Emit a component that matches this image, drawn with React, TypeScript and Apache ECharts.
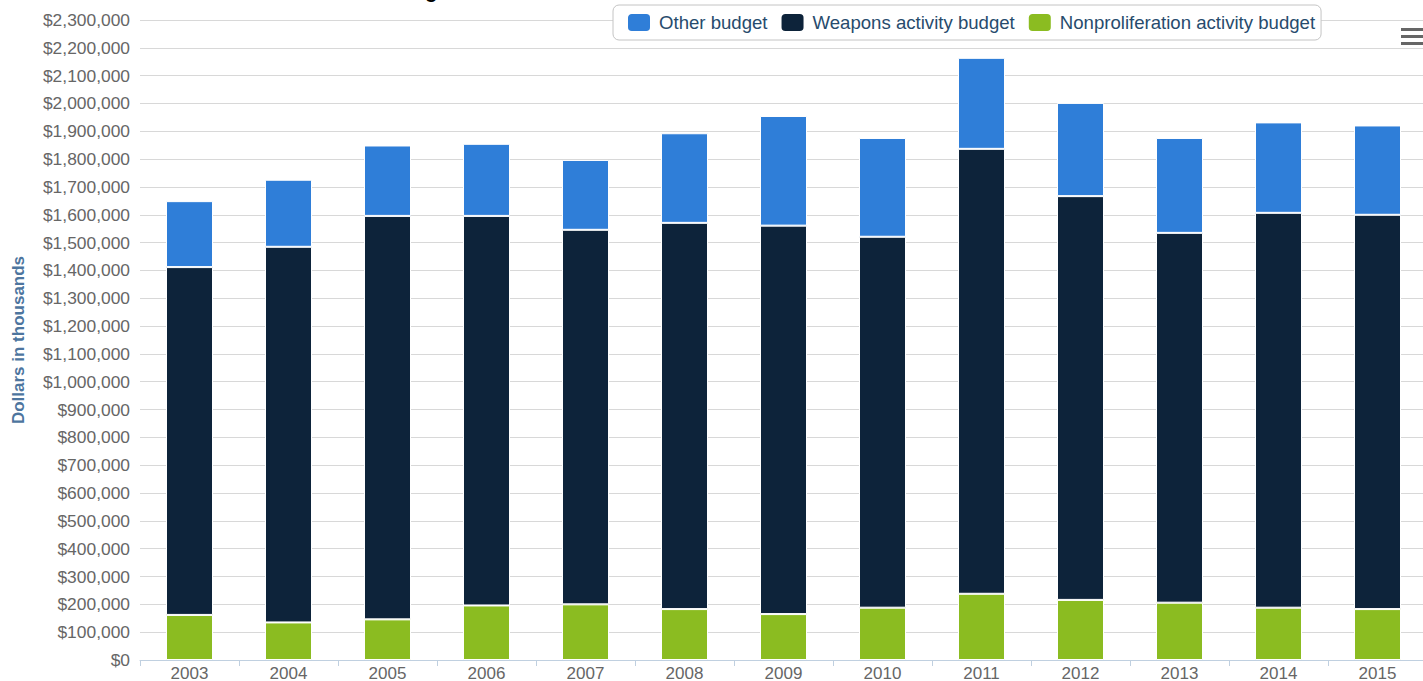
import React, { useEffect, useRef } from "react";
import * as echarts from "echarts";

const years = ["2003", "2004", "2005", "2006", "2007", "2008", "2009", "2010", "2011", "2012", "2013", "2014", "2015"];
const nonproliferation = [162000, 135000, 146000, 196000, 200000, 183000, 165000, 188000, 238000, 216000, 206000, 188000, 183000];
const weapons = [1250000, 1350000, 1450000, 1400000, 1346000, 1388000, 1396000, 1333000, 1599000, 1451000, 1329000, 1419000, 1417000];
const other = [237000, 241000, 253000, 259000, 251000, 322000, 394000, 355000, 327000, 335000, 341000, 325000, 321000];

const FONT = "'Liberation Sans', Arial, Helvetica, sans-serif";

export default function App() {
  const ref = useRef<HTMLDivElement>(null);
  useEffect(() => {
    document.body.style.margin = "0";
    const chart = echarts.init(ref.current!, null, { renderer: "svg" });
    const fmt = (v: number) => "$" + Math.round(v).toString().replace(/\B(?=(\d{3})+(?!\d))/g, ",");
    chart.setOption({
      animation: false,
      textStyle: { fontFamily: FONT },
      grid: { left: 140, right: -4, top: 20, bottom: 21, containLabel: false, outerBoundsMode: "none" },
      legend: {
        data: ["Other budget", "Weapons activity budget", "Nonproliferation activity budget"],
        left: 613,
        top: 5,
        padding: [7, 6, 7, 13],
        borderColor: "#c4c4c4",
        borderWidth: 1,
        borderRadius: 6,
        backgroundColor: "#ffffff",
        icon: "roundRect",
        itemWidth: 24,
        itemHeight: 19,
        itemGap: 12,
        textStyle: { fontSize: 18.6, color: "#274b6d", fontFamily: FONT, padding: [0, 0, 0, 3] },
      },
      xAxis: {
        type: "category",
        data: years,
        axisLine: { lineStyle: { color: "#c0d0e0", width: 1 } },
        axisTick: { show: true, length: 6, lineStyle: { color: "#c0d0e0" } },
        axisLabel: { fontSize: 17, lineHeight: 16, color: "#666666", margin: 5, fontFamily: FONT },
      },
      yAxis: {
        type: "value",
        min: 0,
        max: 2300000,
        interval: 100000,
        name: "Dollars in thousands",
        nameLocation: "middle",
        nameRotate: 90,
        nameGap: 113,
        nameTextStyle: { fontSize: 17, fontWeight: "bold", color: "#4d759e", fontFamily: FONT },
        axisLine: { show: false },
        axisTick: { show: false },
        axisLabel: { fontSize: 17.4, color: "#666666", margin: 10, formatter: fmt, fontFamily: FONT },
        splitLine: { lineStyle: { color: "#d8d8d8", width: 1 } },
      },
      series: [
        {
          name: "Nonproliferation activity budget",
          type: "bar",
          stack: "b",
          barWidth: 47,
          data: nonproliferation,
          itemStyle: { color: "#8bbc21", borderColor: "#ffffff", borderWidth: 1 },
        },
        {
          name: "Weapons activity budget",
          type: "bar",
          stack: "b",
          barWidth: 47,
          data: weapons,
          itemStyle: { color: "#0d233a", borderColor: "#ffffff", borderWidth: 1 },
        },
        {
          name: "Other budget",
          type: "bar",
          stack: "b",
          barWidth: 47,
          data: other,
          itemStyle: { color: "#2f7ed8", borderColor: "#ffffff", borderWidth: 1 },
        },
      ],
      graphic: [
        {
          type: "text",
          right: 1423 - 456,
          top: -19,
          style: { text: "Los Alamos Budget", font: "bold 20px " + FONT, fill: "#000000" },
        },
        { type: "rect", left: 1401, top: 28, shape: { width: 22, height: 3 }, style: { fill: "#666666" } },
        { type: "rect", left: 1401, top: 35, shape: { width: 22, height: 3 }, style: { fill: "#666666" } },
        { type: "rect", left: 1401, top: 42, shape: { width: 22, height: 3 }, style: { fill: "#666666" } },
      ],
    });
    return () => chart.dispose();
  }, []);
  return <div ref={ref} style={{ width: 1423, height: 681 }} />;
}
